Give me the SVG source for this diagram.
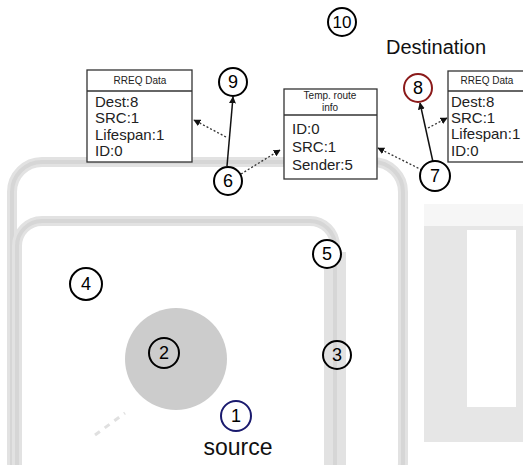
<svg xmlns="http://www.w3.org/2000/svg" width="523" height="465" viewBox="0 0 523 465">
<style>
.bg{fill:none;stroke:#e2e2e2}
.bgc{fill:none;stroke:#d6d6d6}
.node circle{fill:#fff;stroke:#000;stroke-width:2}
.num{font-family:"Liberation Sans",Arial,sans-serif;font-size:18px;fill:#000;text-anchor:middle}
.box rect{fill:#fff;stroke:#333;stroke-width:1.3}
.hdr{font-family:"Liberation Sans",Arial,sans-serif;font-size:10px;fill:#222;text-anchor:middle}
.body{font-family:"Liberation Sans",Arial,sans-serif;font-size:15px;fill:#222}
.lbl{font-family:"Liberation Sans",Arial,sans-serif;fill:#111}
.solid{stroke:#111;stroke-width:1.5;fill:none}
.dot{stroke:#333;stroke-width:1.3;stroke-dasharray:2 2;fill:none}
</style>
<defs>
<marker id="ah" viewBox="0 0 10 10" refX="9" refY="5" markerWidth="7" markerHeight="7" orient="auto" markerUnits="userSpaceOnUse">
<path d="M0,0 L10,5 L0,10 z" fill="#111"/>
</marker>
</defs>
<rect width="523" height="465" fill="#fff"/>
<g id="background">
<rect x="424" y="226" width="106" height="216" fill="#e6e6e6"/>
<rect x="424" y="204" width="106" height="22" fill="#f6f6f6"/>
<rect x="467" y="230" width="49" height="177" fill="#fff"/>
<rect x="12" y="162" width="391" height="330" rx="30" class="bg" stroke-width="10"/>
<rect x="12" y="162" width="391" height="330" rx="30" class="bgc" stroke-width="4"/>
<line x1="335" y1="252" x2="335" y2="465" stroke="#e2e2e2" stroke-width="22"/>
<line x1="335" y1="252" x2="335" y2="465" stroke="#d6d6d6" stroke-width="10"/>
<rect x="17" y="221" width="318" height="280" rx="25" class="bg" stroke-width="10"/>
<rect x="17" y="221" width="318" height="280" rx="25" class="bgc" stroke-width="4"/>
<circle cx="176" cy="359" r="51" fill="#cccccc"/>
<line x1="95" y1="435" x2="125" y2="413" stroke="#e0e0e0" stroke-width="3" stroke-dasharray="6 6"/>
</g>
<g id="connectors">
<line class="solid" x1="227" y1="166" x2="233" y2="97" marker-end="url(#ah)"/>
<line class="dot" x1="226" y1="137" x2="194" y2="120" marker-end="url(#ah)"/>
<line class="dot" x1="241" y1="174" x2="280" y2="150" marker-end="url(#ah)"/>
<line class="dot" x1="422" y1="170" x2="378" y2="148" marker-end="url(#ah)"/>
<line class="solid" x1="433" y1="162" x2="420" y2="103" marker-end="url(#ah)"/>
<line class="dot" x1="428" y1="128" x2="447" y2="118" marker-end="url(#ah)"/>
</g>
<g id="box-rreq-left" class="box">
<rect x="87" y="70" width="105" height="92"/>
<line x1="87" y1="91" x2="192" y2="91" stroke="#333" stroke-width="1.3"/>
<text class="hdr" x="140" y="84">RREQ Data</text>
<text class="body" x="95" y="107">Dest:8</text>
<text class="body" x="95" y="123">SRC:1</text>
<text class="body" x="95" y="140">Lifespan:1</text>
<text class="body" x="95" y="156">ID:0</text>
</g>
<g id="box-temp" class="box">
<rect x="284" y="89" width="93" height="90"/>
<line x1="284" y1="115" x2="377" y2="115" stroke="#333" stroke-width="1.3"/>
<text class="hdr" x="330" y="99">Temp. route</text>
<text class="hdr" x="330" y="111">info</text>
<text class="body" x="292" y="134">ID:0</text>
<text class="body" x="292" y="152">SRC:1</text>
<text class="body" x="292" y="170">Sender:5</text>
</g>
<g id="box-rreq-right" class="box">
<rect x="448" y="71" width="90" height="91"/>
<line x1="448" y1="91" x2="538" y2="91" stroke="#333" stroke-width="1.3"/>
<text class="hdr" x="487" y="84">RREQ Data</text>
<text class="body" x="451" y="107">Dest:8</text>
<text class="body" x="451" y="123">SRC:1</text>
<text class="body" x="451" y="139">Lifespan:1</text>
<text class="body" x="451" y="156">ID:0</text>
</g>
<g id="node1" class="node"><circle cx="236" cy="416" r="15" style="stroke:#1a1a6e"/><text class="num" x="236" y="422">1</text></g>
<g id="node2" class="node"><circle cx="164" cy="353" r="15" style="fill:none"/><text class="num" x="164" y="359">2</text></g>
<g id="node3" class="node"><circle cx="337" cy="355" r="14" style="fill:none"/><text class="num" x="337" y="361">3</text></g>
<g id="node4" class="node"><circle cx="86" cy="284" r="16"/><text class="num" x="86" y="290">4</text></g>
<g id="node5" class="node"><circle cx="327" cy="254" r="14"/><text class="num" x="327" y="260">5</text></g>
<g id="node6" class="node"><circle cx="228" cy="181" r="14"/><text class="num" x="228" y="187">6</text></g>
<g id="node7" class="node"><circle cx="435" cy="176" r="15"/><text class="num" x="435" y="182">7</text></g>
<g id="node8" class="node"><circle cx="418" cy="88" r="14" style="stroke:#8b1a1a"/><text class="num" x="418" y="94">8</text></g>
<g id="node9" class="node"><circle cx="233" cy="82" r="14"/><text class="num" x="233" y="88">9</text></g>
<g id="node10" class="node"><circle cx="342" cy="22" r="14"/><text class="num" x="342" y="28" style="font-size:17px">10</text></g>
<text class="lbl" x="436" y="54" font-size="20" text-anchor="middle">Destination</text>
<text class="lbl" x="238" y="455" font-size="23" text-anchor="middle">source</text>
</svg>
